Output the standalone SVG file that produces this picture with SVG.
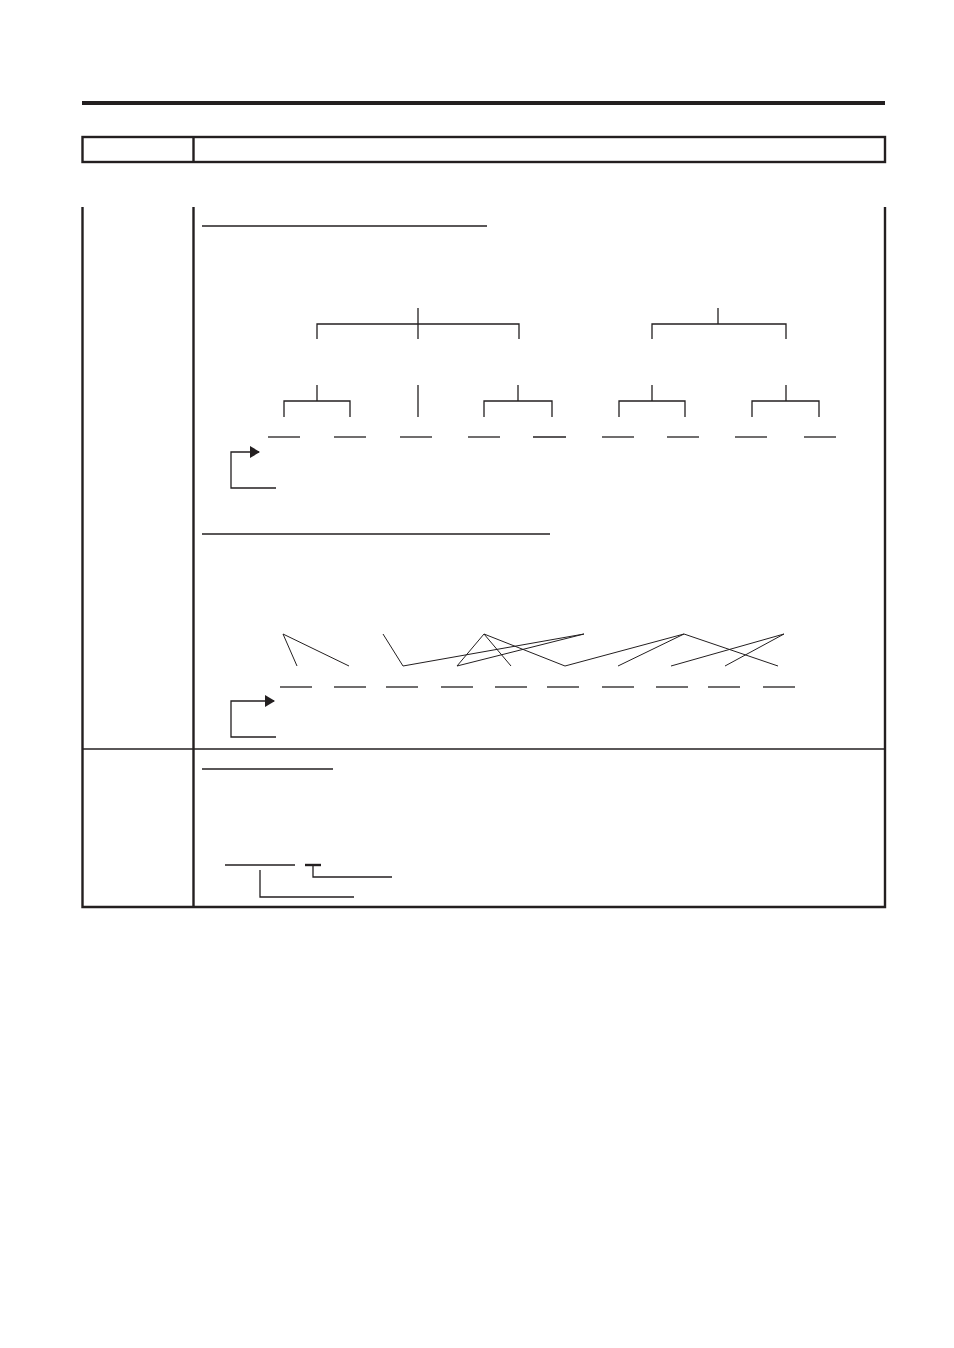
<svg xmlns="http://www.w3.org/2000/svg" width="954" height="1348" viewBox="0 0 954 1348">
<defs>
<style>
.b{stroke:#231f20;stroke-width:2.4;fill:none}
.t{stroke:#231f20;stroke-width:1.3;fill:none}
.d{stroke:#231f20;stroke-width:1;fill:none}
.u{stroke:#231f20;stroke-width:1.6;fill:none}
</style>
<marker id="ah" markerWidth="10" markerHeight="12" refX="9" refY="6" orient="auto" markerUnits="userSpaceOnUse">
<path d="M0,0 L10,6 L0,12 Z" fill="#231f20"/>
</marker>
</defs>
<rect width="954" height="1348" fill="#fff"/>
<g id="frame">
<rect x="82" y="101" width="803" height="4" fill="#231f20"/>
<rect class="b" x="82.5" y="137" width="802.5" height="25"/>
<line class="b" x1="193.5" y1="137" x2="193.5" y2="162"/>
<polyline class="b" points="82.5,207 82.5,907 885,907 885,207"/>
<line class="b" x1="193.5" y1="207" x2="193.5" y2="907"/>
<line class="t" x1="82" y1="749" x2="885" y2="749"/>
</g>
<g id="section1">
<line class="u" x1="202" y1="226" x2="487" y2="226"/>
<g id="tree1">
<line class="t" x1="418" y1="308" x2="418" y2="324"/>
<polyline class="t" points="317,339 317,324 519,324 519,339"/>
<line class="t" x1="418" y1="324" x2="418" y2="339"/>
</g>
<g id="tree2">
<line class="t" x1="718" y1="308" x2="718" y2="324"/>
<polyline class="t" points="652,339 652,324 786,324 786,339"/>
</g>
<g id="subtreeA">
<line class="t" x1="317" y1="385" x2="317" y2="401"/>
<polyline class="t" points="284,417 284,401 350,401 350,417"/>
</g>
<g id="single"><line class="t" x1="418" y1="385" x2="418" y2="417"/></g>
<g id="subtreeC">
<line class="t" x1="518" y1="385" x2="518" y2="401"/>
<polyline class="t" points="484,417 484,401 552,401 552,417"/>
</g>
<g id="subtreeD">
<line class="t" x1="652" y1="385" x2="652" y2="401"/>
<polyline class="t" points="619,417 619,401 685,401 685,417"/>
</g>
<g id="subtreeE">
<line class="t" x1="786" y1="385" x2="786" y2="401"/>
<polyline class="t" points="752,417 752,401 819,401 819,417"/>
</g>
<g id="leaves1" class="t">
<line x1="268" y1="437" x2="300" y2="437"/>
<line x1="334" y1="437" x2="366" y2="437"/>
<line x1="400" y1="437" x2="432" y2="437"/>
<line x1="468" y1="437" x2="500" y2="437"/>
<line x1="533" y1="437" x2="566" y2="437"/>
<line x1="602" y1="437" x2="634" y2="437"/>
<line x1="667" y1="437" x2="699" y2="437"/>
<line x1="735" y1="437" x2="767" y2="437"/>
<line x1="804" y1="437" x2="836" y2="437"/>
</g>
<g id="arrow1">
<polyline class="t" points="276,488 231,488 231,452 259,452" marker-end="url(#ah)"/>
</g>
</g>
<g id="section2">
<line class="u" x1="202" y1="534" x2="550" y2="534"/>
<g id="connectors2" class="d">
<polyline points="297,666 283,634 349,666"/>
<polyline points="383,634 403,666 584,634 457,666 484,634 511,666"/>
<line x1="484" y1="634" x2="565" y2="666"/>
<polyline points="565,666 684,634 778,666"/>
<line x1="684" y1="634" x2="618" y2="666"/>
<polyline points="671,666 784,634 725,666"/>
</g>
<g id="leaves2" class="t">
<line x1="280" y1="687" x2="312" y2="687"/>
<line x1="334" y1="687" x2="366" y2="687"/>
<line x1="386" y1="687" x2="418" y2="687"/>
<line x1="441" y1="687" x2="473" y2="687"/>
<line x1="495" y1="687" x2="527" y2="687"/>
<line x1="547" y1="687" x2="579" y2="687"/>
<line x1="602" y1="687" x2="634" y2="687"/>
<line x1="656" y1="687" x2="688" y2="687"/>
<line x1="708" y1="687" x2="740" y2="687"/>
<line x1="763" y1="687" x2="795" y2="687"/>
</g>
<g id="arrow2">
<polyline class="t" points="276,737 231,737 231,701 274,701" marker-end="url(#ah)"/>
</g>
</g>
<g id="section3">
<line class="u" x1="202" y1="769" x2="333" y2="769"/>
<line class="t" x1="225" y1="865" x2="295" y2="865"/>
<line x1="305" y1="865" x2="321" y2="865" stroke="#231f20" stroke-width="2.4"/>
<g id="connectors3" class="t">
<polyline points="313,866 313,877 392,877"/>
<polyline points="260,870 260,897 354,897"/>
</g>
</g>
</svg>
